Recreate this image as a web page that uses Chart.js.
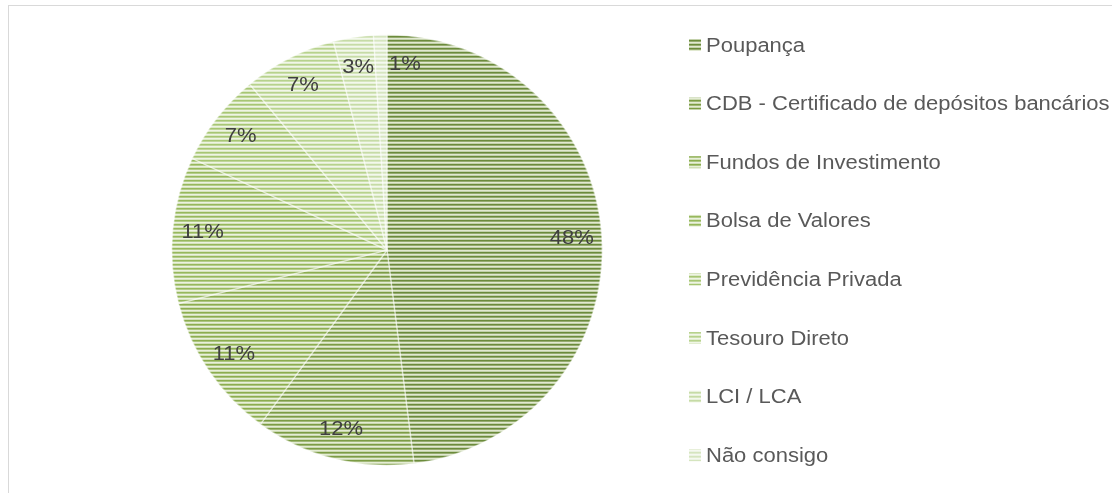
<!DOCTYPE html>
<html>
<head>
<meta charset="utf-8">
<script src="https://cdn.jsdelivr.net/npm/chart.js@4"></script>
<style>
  html, body { margin: 0; padding: 0; background: #fff; }
  #wrap { position: relative; width: 1112px; height: 493px; }
  #frame { position: absolute; left: 8px; top: 5px; right: 0; bottom: 0;
           border-left: 1px solid #d9d9d9; border-top: 1px solid #d9d9d9; }
  canvas { position: absolute; left: 0; top: 0; }
</style>
</head>
<body>
<div id="wrap">
  <div id="frame"></div>
  <canvas id="pieChart" width="1112" height="493"></canvas>
</div>
<script>
// data
const categories = [
  'Poupança',
  'CDB - Certificado de depósitos bancários',
  'Fundos de Investimento',
  'Bolsa de Valores',
  'Previdência Privada',
  'Tesouro Direto',
  'LCI / LCA',
  'Não consigo'
];
const shares = [48, 12, 11, 11, 7, 7, 3, 1];

// stripe colours (dark line / pale line) per slice
const darkLines  = ['#6b8b3b', '#7c9c45', '#8cad4f', '#97b85c', '#a7c673', '#b7d28c', '#c6dba6', '#d5e5bf'];
const paleLines  = ['#e1e9d0', '#e4ecd4', '#e8f0da', '#ebf2df', '#eef4e3', '#f1f6e8', '#f3f8ec', '#f5f9f0'];

// horizontal narrow-stripe pattern like the Excel fill
function stripes(dark, pale) {
  const c = document.createElement('canvas');
  c.width = 4; c.height = 4;
  const g = c.getContext('2d');
  g.fillStyle = pale; g.fillRect(0, 0, 4, 4);
  g.fillStyle = dark; g.fillRect(0, 0, 4, 1);
  g.globalAlpha = 0.65; g.fillRect(0, 1, 4, 1);
  g.globalAlpha = 0.25; g.fillRect(0, 3, 4, 1);
  return g.createPattern(c, 'repeat');
}
const fills = darkLines.map((d, i) => stripes(d, paleLines[i]));

// the exported picture has slightly wide glyphs, so stretch text a little
const STRETCH = 1.1;
function wideText(ctx, txt, x, y) {
  ctx.save();
  ctx.translate(x, y);
  ctx.scale(STRETCH, 1);
  ctx.fillText(txt, 0, 0);
  ctx.restore();
}

// percentage labels placed near the outer part of each slice
const sliceLabels = {
  id: 'sliceLabels',
  afterDatasetsDraw(chart) {
    const ctx = chart.ctx;
    const arcs = chart.getDatasetMeta(0).data;
    const total = shares.reduce((a, b) => a + b, 0);
    ctx.save();
    ctx.font = '20px "Liberation Sans", Arial, sans-serif';
    ctx.fillStyle = '#404040';
    ctx.textAlign = 'center';
    ctx.textBaseline = 'middle';
    arcs.forEach((arc, i) => {
      const p = arc.getProps(['x', 'y', 'startAngle', 'endAngle', 'outerRadius']);
      const mid = (p.startAngle + p.endAngle) / 2;
      const r = p.outerRadius * 0.86;
      let x = p.x + Math.cos(mid) * r;
      const y = p.y + Math.sin(mid) * r;
      const txt = Math.round(shares[i] / total * 100) + '%';
      const w = ctx.measureText(txt).width * STRETCH;
      // tiny slice: push the label to the right so it clears its neighbour
      if (shares[i] / total < 0.02) x = p.x + w / 2 + 2;
      wideText(ctx, txt, x, y);
    });
    ctx.restore();
  }
};

// legend drawn at the right, one item per category
const sideLegend = {
  id: 'sideLegend',
  afterDraw(chart) {
    const ctx = chart.ctx;
    ctx.save();
    ctx.font = '20px "Liberation Sans", Arial, sans-serif';
    ctx.textBaseline = 'middle';
    categories.forEach((name, i) => {
      const y = 45 + i * 58.6;
      ctx.fillStyle = fills[i];
      ctx.fillRect(689, y - 6, 12, 12);
      ctx.fillStyle = '#595959';
      wideText(ctx, name, 706, y + 1);
    });
    ctx.restore();
  }
};

new Chart(document.getElementById('pieChart').getContext('2d'), {
  type: 'pie',
  data: {
    labels: categories,
    datasets: [{
      data: shares,
      backgroundColor: fills,
      borderColor: 'rgba(255,255,255,0.45)',
      borderWidth: 1.5
    }]
  },
  options: {
    responsive: false,
    animation: false,
    layout: { padding: { left: 171, right: 509, top: 34, bottom: 27 } },
    plugins: {
      legend: { display: false },
      tooltip: { enabled: false }
    }
  },
  plugins: [sliceLabels, sideLegend]
});
</script>
</body>
</html>
